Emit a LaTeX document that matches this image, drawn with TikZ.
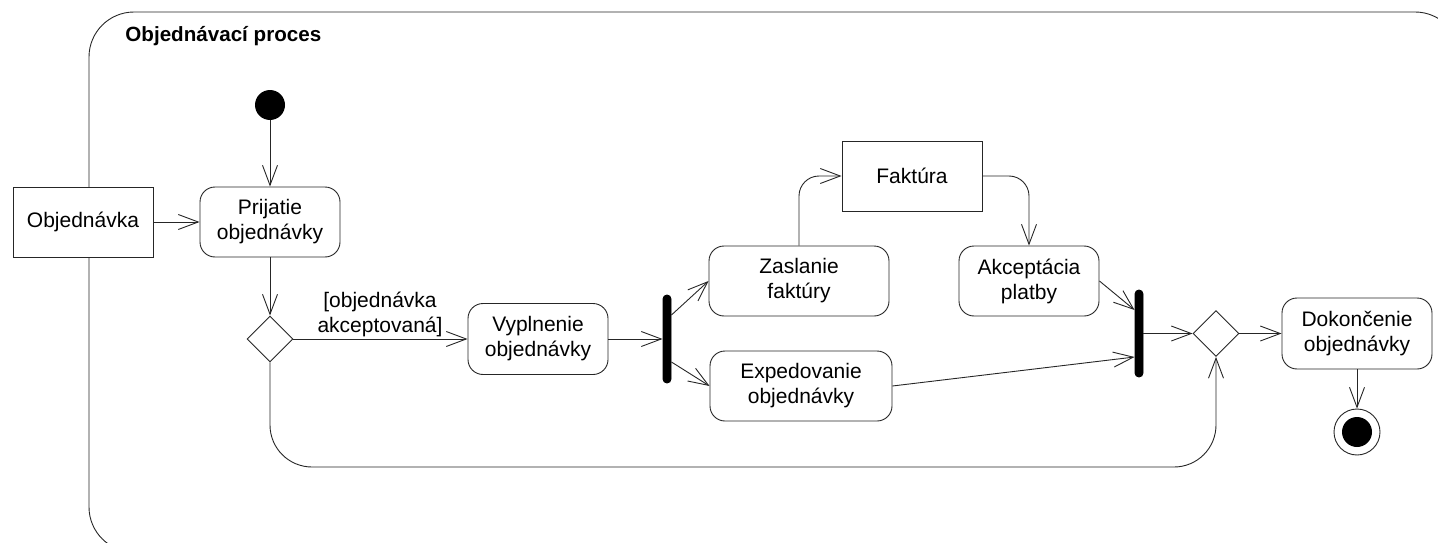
\documentclass[tikz,border=0pt]{standalone}
\usepackage{fontspec}
\setmainfont{Liberation Sans}
\usetikzlibrary{arrows.meta,shapes.geometric,calc}
\begin{document}
\begin{tikzpicture}[x=1pt,y=-1pt,
  line width=0.9pt, draw=black!85,
  every node/.style={font=\fontsize{21pt}{25pt}\selectfont, align=center, inner sep=0pt},
  act/.style={draw, rounded corners=15pt, fill=white, minimum width=140pt, minimum height=70pt},
  obj/.style={draw, rectangle, fill=white, minimum width=140pt, minimum height=70pt},
  bar/.style={draw=black, fill=black, rounded corners=4pt, minimum width=8pt, minimum height=88pt},
  dec/.style={draw, diamond, aspect=1, fill=white, minimum width=46pt, minimum height=46pt},
  arr/.style={-{Straight Barb[length=20pt,width=15pt]}}
]
\useasboundingbox (0,0) rectangle (1438,543);
\begin{scope}
  \clip (0,0) rectangle (1438,543);
  \draw[rounded corners=45pt] (89,12) rectangle (1460,552);
\end{scope}
\node[anchor=base west, font=\fontsize{20.6pt}{24pt}\selectfont\bfseries] (title) at (125,42) {Objednávací proces};

\node[circle, fill=black, minimum size=30pt] (init) at (270,105) {};
\node[obj] (obj) at (83,222) {Objednávka};
\node[act] (prij) at (270,222) {Prijatie\\objednávky};
\node[dec] (d1) at (270,339) {};
\node (guard) at (380,314) {[objednávka\\akceptovaná]};
\node[act, minimum height=71pt] (vypl) at (538,339) {Vyplnenie\\objednávky};
\node[bar] (fork) at (667,339) {};
\node[act, minimum width=180pt] (zasl) at (799,281) {Zaslanie\\faktúry};
\node[act, minimum width=182pt] (exped) at (801,386) {Expedovanie\\objednávky};
\node[obj] (fakt) at (912,176) {Faktúra};
\node[act] (akc) at (1029,281) {Akceptácia\\platby};
\node[bar, minimum height=87pt] (join) at (1139,333.5) {};
\node[dec] (d2) at (1216,333.5) {};
\node[act, minimum width=150pt, minimum height=71pt] (dok) at (1357,333.5) {Dokončenie\\objednávky};
\node[circle, draw, fill=white, minimum size=46pt,
  path picture={\fill[black] (path picture bounding box.center) circle (15pt);}] (final) at (1357,432) {};
\coordinate (loopy) at (0,467);

\draw[arr] (init) -- (prij);
\draw[arr] (obj) -- (prij);
\draw[arr] (prij) -- (d1);
\draw[arr] (d1.east) -- (d1.east -| vypl.west);
\draw[arr, rounded corners=42pt] (d1.south) -- (d1.south |- loopy) -- (d2.south |- loopy) -- (d2.south);
\draw[arr] (vypl.east) -- (vypl.east -| fork.west);
\draw[arr] ($(fork.east)+(0,-24)$) -- (zasl.west);
\draw[arr] ($(fork.east)+(0,23)$) -- (exped.west);
\draw[arr, rounded corners=20pt] (zasl.north) |- (fakt.west);
\draw[arr, rounded corners=20pt] (fakt.east) -| (akc.north);
\draw[arr] (akc.east) -- ($(join.west)+(0,-23.5)$);
\draw[arr] (exped.east) -- ($(join.west)+(0,23.5)$);
\draw[arr] (join.east) -- (d2.west);
\draw[arr] (d2.east) -- (dok.west);
\draw[arr] (dok.south) -- (final.north);
\end{tikzpicture}
\end{document}
